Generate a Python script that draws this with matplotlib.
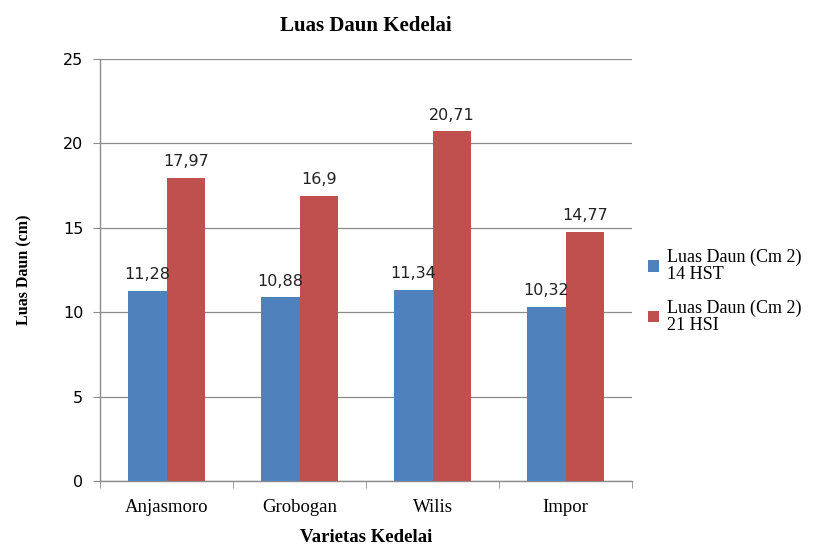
import matplotlib.pyplot as plt
import numpy as np

categories = ["Anjasmoro", "Grobogan", "Wilis", "Impor"]
hst14 = [11.28, 10.88, 11.34, 10.32]
hsi21 = [17.97, 16.9, 20.71, 14.77]
labels14 = ["11,28", "10,88", "11,34", "10,32"]
labels21 = ["17,97", "16,9", "20,71", "14,77"]
series_names = ["Luas Daun (Cm 2)\n14 HST", "Luas Daun (Cm 2)\n21 HSI"]

BLUE = "#4F81BD"
RED = "#C0504D"
SERIF = "Liberation Serif"

fig = plt.figure(figsize=(8.24, 5.45), dpi=100)
ax = fig.add_axes([0.1214, 0.1174, 0.6456, 0.7743])

x = np.arange(len(categories))
w = 0.293
b1 = ax.bar(x - w / 2, hst14, w, color=BLUE, label=series_names[0], zorder=3)
b2 = ax.bar(x + w / 2, hsi21, w, color=RED, label=series_names[1], zorder=3)

for rect, txt in zip(b1, labels14):
    ax.text(rect.get_x() + rect.get_width() / 2, rect.get_height() + 0.5, txt,
            ha="center", va="bottom", fontsize=11.5, color="#222222")
for rect, txt in zip(b2, labels21):
    ax.text(rect.get_x() + rect.get_width() / 2, rect.get_height() + 0.5, txt,
            ha="center", va="bottom", fontsize=11.5, color="#222222")

ax.set_xlim(-0.5, len(categories) - 0.5)
ax.set_ylim(0, 25)
ax.set_yticks(np.arange(0, 26, 5))
ax.yaxis.grid(True, color="#8c8c8c", linewidth=0.9, zorder=0)
ax.set_axisbelow(True)

# category ticks between groups, like Excel
ax.set_xticks(x)
ax.set_xticklabels(categories, fontfamily=SERIF, fontsize=13.5)
ax.set_xticks(np.arange(-0.5, len(categories), 1), minor=True)
ax.tick_params(axis="x", which="major", length=0, pad=13)
ax.tick_params(axis="x", which="minor", length=5, color="#8c8c8c")
ax.tick_params(axis="y", length=5, color="#8c8c8c", labelsize=11.5, pad=7)

for s in ["top", "right"]:
    ax.spines[s].set_visible(False)
for s in ["left", "bottom"]:
    ax.spines[s].set_color("#8c8c8c")
    ax.spines[s].set_linewidth(1.0)

ax.set_title("Luas Daun Kedelai", fontfamily=SERIF, fontweight="bold",
             fontsize=15, pad=20)
ax.set_xlabel("Varietas Kedelai", fontfamily=SERIF, fontweight="bold",
              fontsize=13.5, labelpad=9)
ax.set_ylabel("Luas Daun (cm)", fontfamily=SERIF, fontweight="bold",
              fontsize=11.5, labelpad=22)

leg = ax.legend(loc="center left", bbox_to_anchor=(1.0, 0.45), frameon=False,
                prop={"family": SERIF, "size": 13}, handlelength=0.6,
                handleheight=0.6, handletextpad=0.45, labelspacing=0.9)
for t in leg.get_texts():
    t.set_linespacing(1.0)

fig.savefig("out.png", dpi=100)
